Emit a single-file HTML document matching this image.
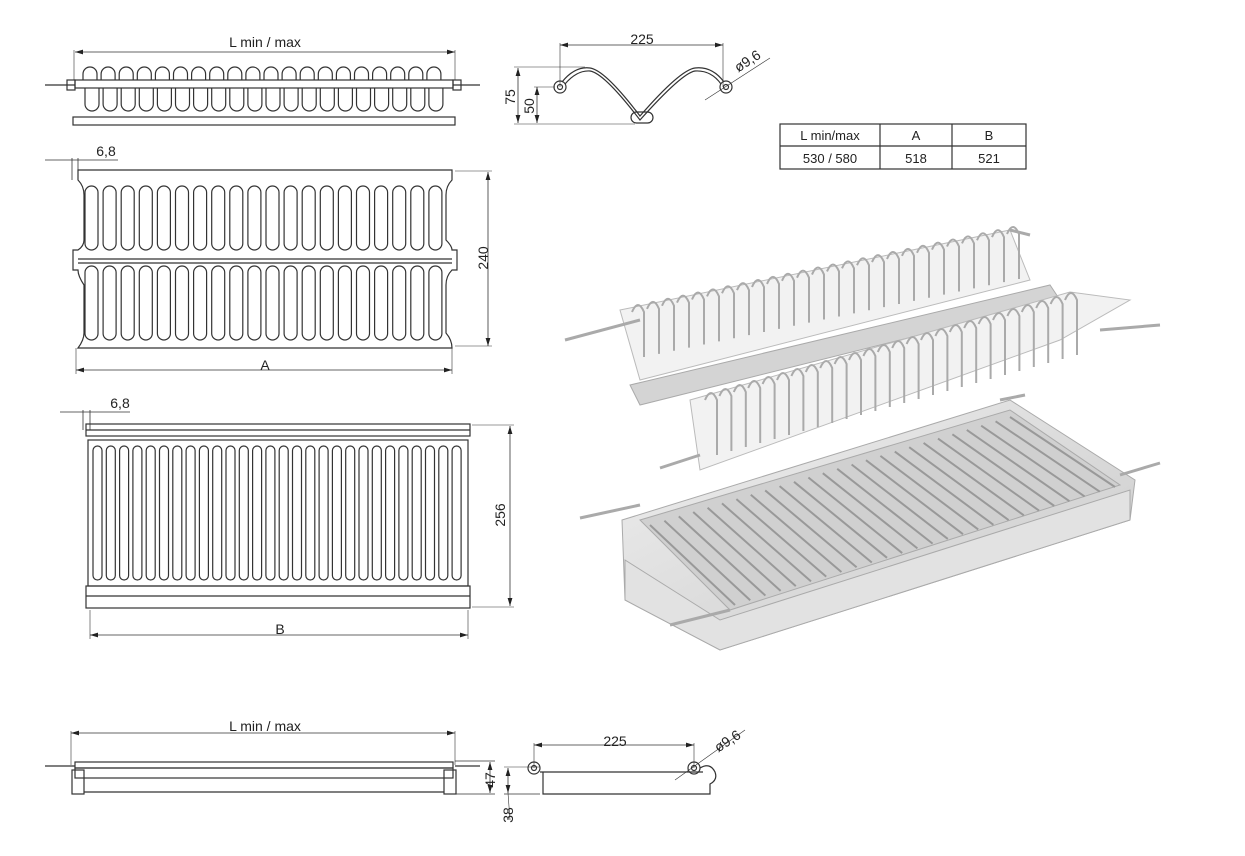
<!DOCTYPE html>
<html><head><meta charset="utf-8"><style>
html,body{margin:0;padding:0;background:#fff;}
svg{display:block;}
text{font-family:"Liberation Sans",sans-serif;fill:#222;}
</style></head><body>
<svg id="s" width="1245" height="856" viewBox="0 0 1245 856" xmlns="http://www.w3.org/2000/svg">
<defs>
<marker id="a" viewBox="0 0 10 6" refX="10" refY="3" markerWidth="10" markerHeight="6" orient="auto-start-reverse"><path d="M0,0 L10,3 L0,6z" fill="#222"/></marker>
<linearGradient id="g1" x1="0" y1="0" x2="1" y2="1"><stop offset="0" stop-color="#f0f0f0"/><stop offset="1" stop-color="#c8c8c8"/></linearGradient>
</defs>
<g stroke="#333" stroke-width="1.2" fill="none" id="d">
<line x1="75" y1="52" x2="455" y2="52" marker-start="url(#a)" marker-end="url(#a)" stroke-width="0.8"/>
<line x1="74" y1="50" x2="74" y2="80" stroke-width="0.6"/><line x1="455" y1="50" x2="455" y2="80" stroke-width="0.6"/>
<rect x="75" y="80" width="378" height="8"/>
<rect x="73" y="117" width="382" height="8"/>
<line x1="45" y1="85" x2="75" y2="85"/><line x1="453" y1="85" x2="480" y2="85"/>
<rect x="67" y="80" width="8" height="10"/><rect x="453" y="80" width="8" height="10"/>
<line x1="45" y1="160" x2="118" y2="160" stroke-width="0.8"/>
<line x1="72" y1="158" x2="72" y2="180" stroke-width="0.8"/><line x1="78" y1="158" x2="78" y2="180" stroke-width="0.8"/>
<path d="M78,170 H452 V180 Q446,186 446,195 V240 Q452,246 452,250 H457 V270 H452 Q446,276 446,285 V333 Q452,340 452,348 H78 Q84,340 84,333 V285 Q78,276 78,270 H73 V250 H78 Q84,246 84,240 V195 Q84,186 78,180 Z"/>
<line x1="78" y1="259" x2="452" y2="259"/><line x1="78" y1="263" x2="452" y2="263"/>
<line x1="488" y1="172" x2="488" y2="346" marker-start="url(#a)" marker-end="url(#a)" stroke-width="0.8"/>
<line x1="455" y1="171" x2="492" y2="171" stroke-width="0.6"/><line x1="455" y1="346" x2="492" y2="346" stroke-width="0.6"/>
<line x1="76" y1="370" x2="452" y2="370" marker-start="url(#a)" marker-end="url(#a)" stroke-width="0.8"/>
<line x1="76" y1="348" x2="76" y2="374" stroke-width="0.6"/><line x1="452" y1="348" x2="452" y2="374" stroke-width="0.6"/>
<line x1="60" y1="412" x2="130" y2="412" stroke-width="0.8"/>
<line x1="83" y1="410" x2="83" y2="430" stroke-width="0.8"/><line x1="90" y1="410" x2="90" y2="430" stroke-width="0.8"/>
<rect x="86" y="424" width="384" height="12"/><line x1="86" y1="430" x2="470" y2="430"/>
<rect x="88" y="440" width="380" height="146"/>
<rect x="86" y="586" width="384" height="22"/><line x1="86" y1="596" x2="470" y2="596"/>
<line x1="510" y1="426" x2="510" y2="606" marker-start="url(#a)" marker-end="url(#a)" stroke-width="0.8"/>
<line x1="472" y1="425" x2="514" y2="425" stroke-width="0.6"/><line x1="472" y1="607" x2="514" y2="607" stroke-width="0.6"/>
<line x1="90" y1="635" x2="468" y2="635" marker-start="url(#a)" marker-end="url(#a)" stroke-width="0.8"/>
<line x1="90" y1="610" x2="90" y2="639" stroke-width="0.6"/><line x1="468" y1="610" x2="468" y2="639" stroke-width="0.6"/>
<line x1="71" y1="733" x2="455" y2="733" marker-start="url(#a)" marker-end="url(#a)" stroke-width="0.8"/>
<line x1="71" y1="731" x2="71" y2="765" stroke-width="0.6"/><line x1="455" y1="731" x2="455" y2="765" stroke-width="0.6"/>
<rect x="75" y="762" width="378" height="6"/><rect x="75" y="768" width="378" height="10"/>
<rect x="72" y="770" width="12" height="24"/><rect x="444" y="770" width="12" height="24"/>
<line x1="84" y1="792" x2="444" y2="792"/>
<line x1="45" y1="766" x2="75" y2="766"/><line x1="455" y1="766" x2="480" y2="766"/>
<line x1="455" y1="761" x2="495" y2="761" stroke-width="0.8"/><line x1="455" y1="794" x2="495" y2="794" stroke-width="0.8"/>
<line x1="490" y1="762" x2="490" y2="793" marker-start="url(#a)" marker-end="url(#a)" stroke-width="0.8"/>
<line x1="508" y1="768" x2="508" y2="793" marker-start="url(#a)" marker-end="url(#a)" stroke-width="0.8"/>
<line x1="504" y1="767" x2="540" y2="767" stroke-width="0.6"/><line x1="508" y1="793" x2="510" y2="820" stroke-width="0.6"/>
<line x1="504" y1="794" x2="540" y2="794" stroke-width="0.8"/>
<circle cx="534" cy="768" r="6"/><circle cx="534" cy="768" r="2.5"/>
<path d="M540,772 H703 M543,772 V794 H710 V784 Q718,780 715,772 Q710,762 700,768"/>
<circle cx="694" cy="768" r="6"/><circle cx="694" cy="768" r="2.5"/>
<line x1="534" y1="745" x2="694" y2="745" marker-start="url(#a)" marker-end="url(#a)" stroke-width="0.8"/>
<line x1="534" y1="743" x2="534" y2="768" stroke-width="0.6"/><line x1="694" y1="743" x2="694" y2="768" stroke-width="0.6"/>
<line x1="675" y1="780" x2="745" y2="730" stroke-width="0.6"/>
<line x1="560" y1="45" x2="723" y2="45" marker-start="url(#a)" marker-end="url(#a)" stroke-width="0.8"/>
<line x1="560" y1="43" x2="560" y2="87" stroke-width="0.6"/><line x1="723" y1="43" x2="723" y2="87" stroke-width="0.6"/>
<circle cx="560" cy="87" r="6"/><circle cx="560" cy="87" r="2.5"/>
<circle cx="726" cy="87" r="6"/><circle cx="726" cy="87" r="2.5"/>
<path d="M562,82 Q575,66 590,68 Q605,70 640,116 Q680,70 695,68 Q712,66 724,82"/>
<path d="M565,84 Q577,70 590,71 Q604,73 640,120 Q682,73 695,71 Q711,70 721,84"/>
<rect x="631" y="112" width="22" height="11" rx="5.5"/>
<line x1="518" y1="68" x2="518" y2="123" marker-start="url(#a)" marker-end="url(#a)" stroke-width="0.8"/>
<line x1="537" y1="87" x2="537" y2="123" marker-start="url(#a)" marker-end="url(#a)" stroke-width="0.8"/>
<line x1="514" y1="67" x2="585" y2="67" stroke-width="0.5"/><line x1="534" y1="87" x2="555" y2="87" stroke-width="0.5"/>
<line x1="514" y1="124" x2="635" y2="124" stroke-width="0.5"/>
<line x1="705" y1="100" x2="770" y2="58" stroke-width="0.6"/>
<rect x="780" y="124" width="246" height="45" stroke-width="1.2"/>
<line x1="780" y1="146" x2="1026" y2="146"/>
<line x1="880" y1="124" x2="880" y2="169"/><line x1="952" y1="124" x2="952" y2="169"/>
</g>
<g id="ph"></g>
<text x="265" y="47" font-size="14" text-anchor="middle">L min / max</text>
<text x="106" y="156" font-size="14" text-anchor="middle">6,8</text>
<text x="120" y="408" font-size="14" text-anchor="middle">6,8</text>
<text x="265" y="370" font-size="14" text-anchor="middle">A</text>
<text x="280" y="634" font-size="14" text-anchor="middle">B</text>
<text x="265" y="731" font-size="14" text-anchor="middle">L min / max</text>
<text x="615" y="746" font-size="14" text-anchor="middle">225</text>
<text x="642" y="44" font-size="14" text-anchor="middle">225</text>
<text font-size="14" transform="translate(488,258) rotate(-90)" text-anchor="middle">240</text>
<text font-size="14" transform="translate(505,515) rotate(-90)" text-anchor="middle">256</text>
<text font-size="14" transform="translate(515,97) rotate(-90)" text-anchor="middle">75</text>
<text font-size="14" transform="translate(534,106) rotate(-90)" text-anchor="middle">50</text>
<text font-size="14" transform="translate(495,780) rotate(-90)" text-anchor="middle">47</text>
<text font-size="14" transform="translate(513,815) rotate(-90)" text-anchor="middle">38</text>
<text font-size="14" transform="translate(750,65) rotate(-33)" text-anchor="middle">ø9,6</text>
<text font-size="14" transform="translate(730,745) rotate(-33)" text-anchor="middle">ø9,6</text>
<text x="830" y="140" font-size="13" text-anchor="middle">L min/max</text>
<text x="916" y="140" font-size="13" text-anchor="middle">A</text>
<text x="989" y="140" font-size="13" text-anchor="middle">B</text>
<text x="830" y="163" font-size="13" text-anchor="middle">530 / 580</text>
<text x="916" y="163" font-size="13" text-anchor="middle">518</text>
<text x="989" y="163" font-size="13" text-anchor="middle">521</text>
</svg>
<script>
var NS="http://www.w3.org/2000/svg",d=document.getElementById('d'),ph=document.getElementById('ph');
function el(p,t,a){var e=document.createElementNS(NS,t);for(var k in a)e.setAttribute(k,a[k]);p.appendChild(e);return e;}
for(var i=0;i<20;i++){
 var x=85+i*18.1;
 el(d,'path',{d:'M'+(x-2)+',80 V74 a7,7 0 0 1 14,0 V80'});
 el(d,'path',{d:'M'+x+',88 V104 a7,7 0 0 0 14,0 V88'});
 el(d,'rect',{x:x,y:186,width:13,height:64,rx:6.5});
 el(d,'rect',{x:x,y:266,width:13,height:74,rx:6.5});
}
for(var i=0;i<28;i++){var x=93+i*13.3;el(d,'rect',{x:x,y:446,width:9,height:134,rx:4.5});}
el(ph,'polygon',{points:'620,310 1010,230 1030,280 640,380',fill:'#f2f2f2',stroke:'#bbb'});
el(ph,'polygon',{points:'630,385 1050,285 1060,300 640,405',fill:'#d4d4d4',stroke:'#aaa'});
el(ph,'polygon',{points:'690,400 1070,292 1130,300 1060,340 700,470',fill:'#f2f2f2',stroke:'#bbb'});
el(ph,'polygon',{points:'622,520 1010,400 1135,480 1130,520 720,650 625,600',fill:'url(#g1)',stroke:'#aaa'});
el(ph,'polygon',{points:'640,520 1010,410 1120,485 730,610',fill:'#d0d0d0',stroke:'#aaa'});
el(ph,'polygon',{points:'625,600 720,650 1130,520 1130,490 720,620 625,560',fill:'#e2e2e2',stroke:'#aaa'});
for(var i=0;i<26;i++){
 var t=i/25;
 el(ph,'path',{d:'M'+(632+t*375)+','+(312-t*78)+' q6,-14 12,0 v45',fill:'none',stroke:'#aaa','stroke-width':2});
 el(ph,'path',{d:'M'+(705+t*360)+','+(400-t*100)+' q6,-14 12,0 v55',fill:'none',stroke:'#aaa','stroke-width':2});
 el(ph,'line',{x1:650+t*360,y1:525-t*108,x2:735+t*380,y2:605-t*118,stroke:'#999','stroke-width':2});
}
[[565,340,640,320],[1010,230,1030,235],[660,468,700,455],[1100,330,1160,325],[580,518,640,505],[1000,400,1025,395],[670,625,730,610],[1120,475,1160,463]].forEach(function(l){el(ph,'line',{x1:l[0],y1:l[1],x2:l[2],y2:l[3],stroke:'#aaa','stroke-width':3});});
</script>
</body></html>
